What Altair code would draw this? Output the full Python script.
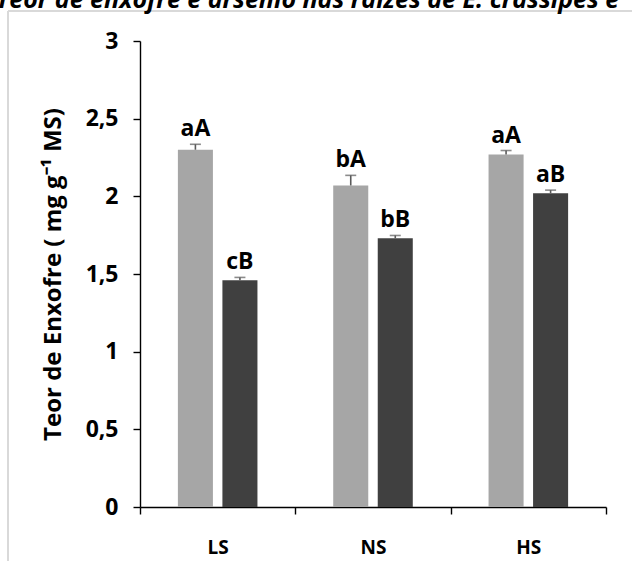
import altair as alt
import pandas as pd

# Sulfur content in roots, per treatment (two series per treatment)
categories = ["LS", "NS", "HS"]
series = ["Série 1", "Série 2"]
values_s1 = [2.30, 2.07, 2.27]
values_s2 = [1.46, 1.73, 2.02]
errors_s1 = [0.035, 0.065, 0.025]
errors_s2 = [0.018, 0.018, 0.020]
letters_s1 = ["aA", "bA", "aA"]
letters_s2 = ["cB", "bB", "aB"]
colors = ["#a6a6a6", "#404040"]
y_ticks = [0, 0.5, 1, 1.5, 2, 2.5, 3]

rows = []
for cat, v1, v2, e1, e2, l1, l2 in zip(categories, values_s1, values_s2,
                                      errors_s1, errors_s2, letters_s1, letters_s2):
    rows.append({"cat": cat, "serie": series[0], "valor": v1, "erro": e1, "letra": l1})
    rows.append({"cat": cat, "serie": series[1], "valor": v2, "erro": e2, "letra": l2})
df = pd.DataFrame(rows)
df["topo"] = df["valor"] + df["erro"]

FONT = "Open Sans"
W, H = 466, 466

x = alt.X(
    "cat:N",
    sort=categories,
    scale=alt.Scale(paddingInner=0, paddingOuter=0),
    axis=alt.Axis(
        title=None, labelAngle=0, tickBand="extent", tickSize=7,
        labelPadding=24, labelFontSize=19,
    ),
)
xo = alt.XOffset(
    "serie:N", sort=series,
    scale=alt.Scale(paddingInner=0.213, paddingOuter=0.851),
)
y_axis = alt.Axis(
    values=y_ticks,
    labelExpr="replace(toString(datum.value), '.', ',')",
    title="Teor de Enxofre ( mg g⁻¹ MS)",
    titleFontSize=24,
    titlePadding=20,
    labelPadding=15,
    tickSize=7,
    grid=False,
    labelFontSize=23,
)
y = alt.Y("valor:Q", scale=alt.Scale(domain=[0, 3], nice=False), axis=y_axis)

base = alt.Chart(df)

bars = base.mark_bar().encode(
    x=x, xOffset=xo, y=y,
    color=alt.Color("serie:N", sort=series,
                    scale=alt.Scale(domain=series, range=colors), legend=None),
)
err_line = base.mark_rule(color="#5a5a5a", strokeWidth=1.6).encode(
    x=x, xOffset=xo, y="valor:Q", y2="topo:Q",
)
err_cap = base.mark_tick(color="#5a5a5a", thickness=1.6, size=11).encode(
    x=x, xOffset=xo, y="topo:Q",
)
letters = base.mark_text(
    baseline="bottom", dy=-3, font=FONT, fontWeight="bold", fontSize=23, color="black",
).encode(x=x, xOffset=xo, y="topo:Q", text="letra:N")

# Outer frame and the heading running above it
deco = alt.Chart(pd.DataFrame({"k": [0]}))
frame_top = deco.mark_rule(color="#d9d9d9", strokeWidth=2).encode(
    x=alt.value(-132), x2=alt.value(520), y=alt.value(-30),
)
frame_left = deco.mark_rule(color="#d9d9d9", strokeWidth=2).encode(
    x=alt.value(-132), y=alt.value(-30), y2=alt.value(540),
)
heading = deco.mark_text(
    align="left", baseline="alphabetic", font=FONT, fontWeight="bold",
    fontStyle="italic", fontSize=25, color="black",
).encode(
    x=alt.value(-144), y=alt.value(-33),
    text=alt.value("Teor de enxofre e arsênio nas raízes de E. crassipes e"),
)

chart = (
    alt.layer(frame_top, frame_left, heading, bars, err_line, err_cap, letters)
    .properties(
        width=W, height=H,
        autosize=alt.AutoSizeParams(type="none"),
        padding={"left": 140, "top": 41, "right": 26, "bottom": 54},
        background="white",
    )
    .configure_view(stroke=None)
    .configure_axis(
        domainColor="black", domainWidth=1.4, tickColor="black", tickWidth=1.4,
        labelFont=FONT, labelFontWeight="bold", labelColor="black",
        titleFont=FONT, titleFontWeight="bold", titleColor="black",
    )
)

chart.save("out.html", embed_options={"renderer": "svg", "actions": False})
